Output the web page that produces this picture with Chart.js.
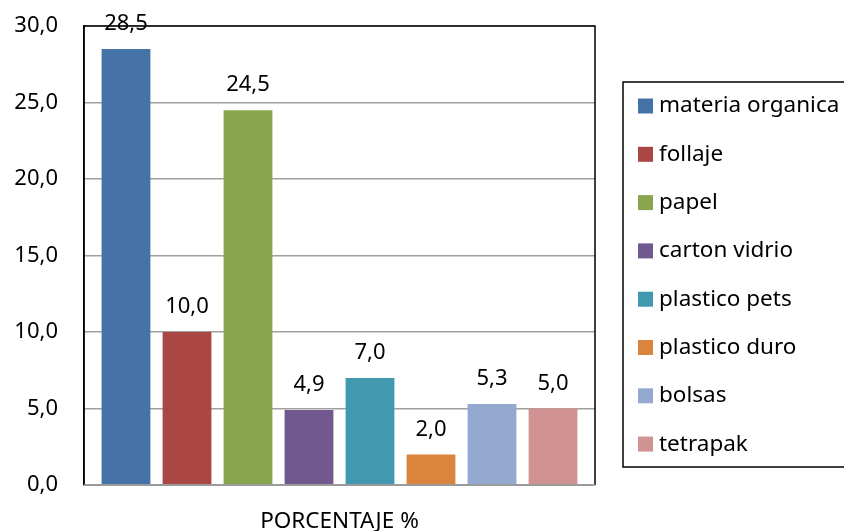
<!DOCTYPE html>
<html>
<head>
<meta charset="utf-8">
<script src="https://cdn.jsdelivr.net/npm/chart.js@4/dist/chart.umd.min.js"></script>
<style>
  html, body { margin: 0; padding: 0; background: #fff; }
  #wrap { width: 844px; height: 531px; }
</style>
</head>
<body>
<div id="wrap"><canvas id="chart" width="844" height="531"></canvas></div>
<script>
const categories = ['PORCENTAJE %'];
const seriesNames = ['materia organica', 'follaje', 'papel', 'carton vidrio', 'plastico pets', 'plastico duro', 'bolsas', 'tetrapak'];
const seriesValues = [28.5, 10.0, 24.5, 4.9, 7.0, 2.0, 5.3, 5.0];
const seriesColors = ['#4572A7', '#AA4643', '#89A54E', '#71588F', '#4198AF', '#DB843D', '#93A9CF', '#D19392'];
const yMin = 0, yMax = 30, yStep = 5;

const FONT = '"Noto Sans", "Open Sans", sans-serif';
const fmt = v => Number(v).toFixed(1).replace('.', ',');

// etiquetas de valor encima de cada barra
const valueLabels = {
  id: 'valueLabels',
  afterDatasetsDraw(chart) {
    const ctx = chart.ctx;
    ctx.save();
    ctx.font = '22px ' + FONT;
    ctx.fillStyle = '#000';
    ctx.textAlign = 'center';
    ctx.textBaseline = 'middle';
    chart.data.datasets.forEach((ds, i) => {
      const bar = chart.getDatasetMeta(i).data[0];
      ctx.fillText(fmt(ds.data[0]), bar.x, bar.y - 25);
    });
    ctx.restore();
  }
};

// borde del area de trazado + leyenda con recuadro
const frameAndLegend = {
  id: 'frameAndLegend',
  afterDraw(chart) {
    const ctx = chart.ctx;
    const a = chart.chartArea;
    ctx.save();
    ctx.strokeStyle = '#000';
    ctx.lineWidth = 1.5;
    ctx.beginPath();
    ctx.moveTo(a.left, a.bottom);
    ctx.lineTo(a.left, a.top);
    ctx.lineTo(a.right, a.top);
    ctx.lineTo(a.right, a.bottom);
    ctx.stroke();
    ctx.strokeStyle = '#9a9a9a';
    ctx.lineWidth = 2;
    ctx.beginPath();
    ctx.moveTo(a.left, a.bottom);
    ctx.lineTo(a.right, a.bottom);
    ctx.stroke();

    // leyenda
    const lx = 623, ly = 82, lh = 385;
    ctx.strokeStyle = '#000';
    ctx.lineWidth = 1.5;
    ctx.strokeRect(lx, ly, 260, lh);
    ctx.font = '22.5px ' + FONT;
    ctx.textAlign = 'left';
    ctx.textBaseline = 'middle';
    chart.data.datasets.forEach((ds, i) => {
      const cy = 106 + i * 48.3;
      ctx.fillStyle = ds.backgroundColor;
      ctx.fillRect(638, cy - 7.5, 15, 15);
      ctx.fillStyle = '#000';
      ctx.fillText(ds.label, 659, cy);
    });
    ctx.restore();
  }
};

new Chart(document.getElementById('chart'), {
  type: 'bar',
  data: {
    labels: categories,
    datasets: seriesNames.map((name, i) => ({
      label: name,
      data: [seriesValues[i]],
      backgroundColor: seriesColors[i],
      borderWidth: 0,
      categoryPercentage: 0.955,
      barPercentage: 0.8
    }))
  },
  options: {
    responsive: false,
    animation: false,
    layout: { padding: { top: 26, right: 249, bottom: 0, left: 0 } },
    plugins: {
      legend: { display: false },
      tooltip: { enabled: false }
    },
    scales: {
      x: {
        grid: { display: false, drawTicks: false },
        border: { display: false },
        ticks: { color: '#000', font: { family: FONT, size: 22.5 }, padding: 23 },
        afterFit(scale) { scale.height = 46; }
      },
      y: {
        min: yMin, max: yMax,
        grid: { color: '#a0a0a0', lineWidth: 1.5, drawTicks: true, tickLength: 24, tickColor: 'rgba(0,0,0,0)' },
        border: { display: true, color: '#000', width: 1.5 },
        ticks: {
          stepSize: yStep,
          color: '#000',
          font: { family: FONT, size: 22 },
          padding: 2,
          callback: v => fmt(v)
        },
        afterFit(scale) { scale.width = 84; }
      }
    }
  },
  plugins: [valueLabels, frameAndLegend]
});
</script>
</body>
</html>
